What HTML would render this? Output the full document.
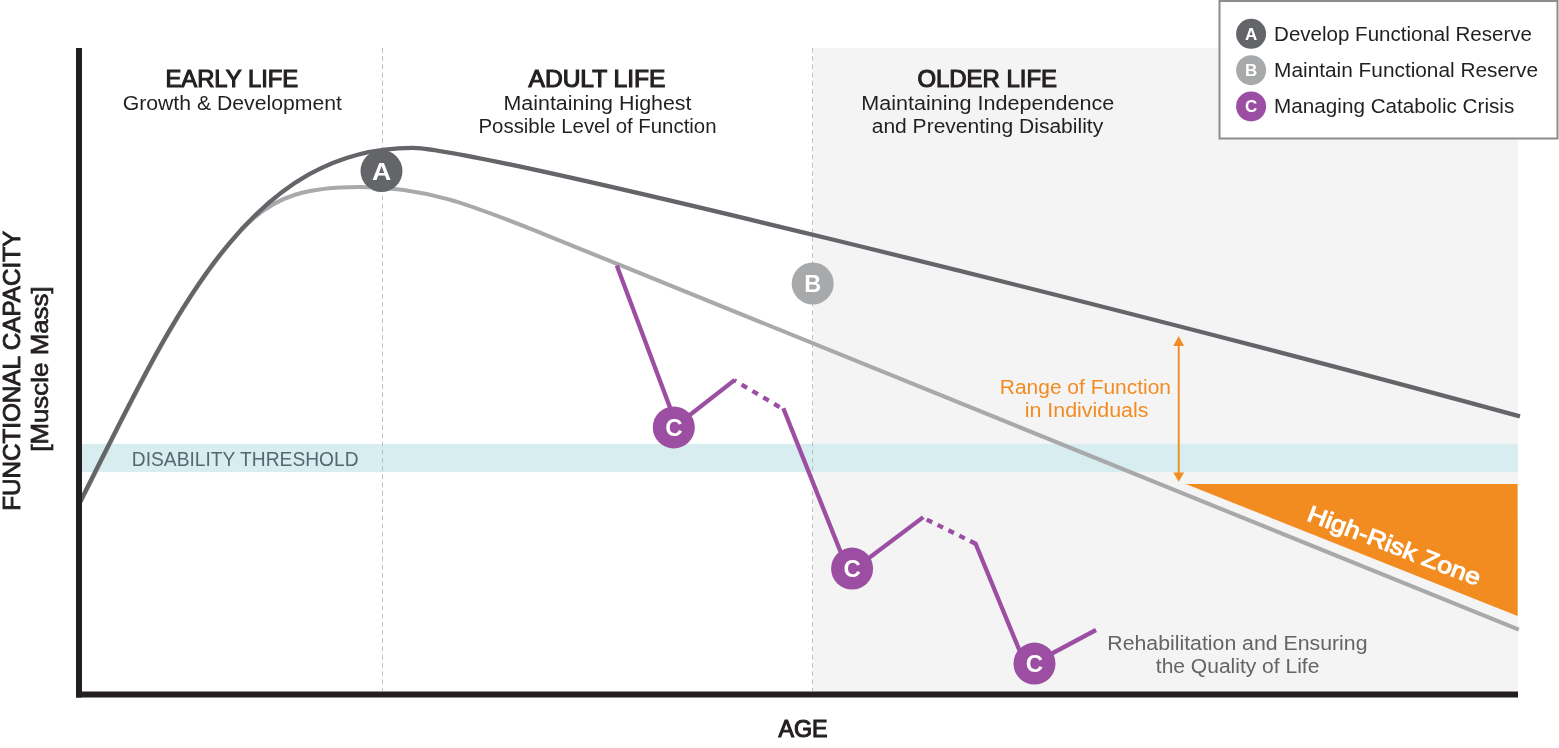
<!DOCTYPE html>
<html lang="en"><head><meta charset="utf-8"><title>Functional capacity across the life course</title>
<style>
html,body{margin:0;padding:0;background:#fff;}
body{width:1559px;height:748px;overflow:hidden;font-family:"Liberation Sans",sans-serif;}
svg{display:block;}
text{font-family:"Liberation Sans",sans-serif;}
.t{font-weight:400;fill:#231f20;stroke:#231f20;stroke-width:1.1px;stroke-linejoin:miter;}
.s{fill:#231f20;}
</style></head><body>
<svg width="1559" height="748" viewBox="0 0 1559 748">
<rect width="1559" height="748" fill="#ffffff"/>

<rect x="813.2" y="48" width="704.8" height="644" fill="#f4f4f5"/>
<rect x="82" y="443.8" width="1436" height="28.3" fill="#d7edf0"/>
<line x1="382.5" y1="48" x2="382.5" y2="691" stroke="#b9b9b9" stroke-width="0.9" stroke-dasharray="4.8 3.4"/>
<line x1="812.5" y1="48" x2="812.5" y2="691" stroke="#b9b9b9" stroke-width="0.9" stroke-dasharray="4.8 3.4"/>
<polygon points="1185.8,484 1517.6,484 1517.6,616" fill="#f28c20"/>
<path d="M80.6,502 C131.7,401 178.5,299.3 240.3,231.1 C275.2,192.2 313.6,187 360,187 C427.3,187 473.2,205.9 541.8,233.3 L1518.8,629.7" fill="none" stroke="#a8a9ab" stroke-width="4.1" stroke-linecap="butt"/>
<path d="M80,502 C169.1,326 244.9,147.8 412,147.8 C472.6,147.8 1100.6,302.2 1520,416.4" fill="none" stroke="#636569" stroke-width="4.3" stroke-linecap="butt"/>
<g stroke="#9c4fa2" stroke-width="4.3" fill="none" stroke-linecap="butt">
<line x1="616.8" y1="265.4" x2="672.8" y2="415"/>
<line x1="673.8" y1="427.5" x2="734.8" y2="379.9"/>
<line x1="734.3" y1="380.3" x2="783.8" y2="409.5" stroke-dasharray="6.3 6.3" stroke-dashoffset="4.1"/>
<line x1="783.3" y1="408.2" x2="845" y2="563"/>
<line x1="853" y1="570" x2="923.3" y2="517.1"/>
<line x1="922.7" y1="517.6" x2="975.6" y2="543.7" stroke-dasharray="6.1 6" stroke-dashoffset="7.6"/>
<line x1="975.1" y1="542.5" x2="1022" y2="656.5"/>
<line x1="1036" y1="662" x2="1096" y2="630"/>
</g>
<line x1="1178.7" y1="343" x2="1178.7" y2="475" stroke="#f28c20" stroke-width="1.9"/>
<polygon points="1178.7,336 1173.3,346 1184.1,346" fill="#f28c20"/>
<polygon points="1178.7,481.8 1173.3,472.6 1184.1,472.6" fill="#f28c20"/>
<rect x="76" y="48" width="6" height="649.5" fill="#231f20"/>
<rect x="76" y="691.5" width="1442" height="6" fill="#231f20"/>
<circle cx="381.5" cy="171" r="21" fill="#636569"/>
<text x="381.5" y="179.5" text-anchor="middle" font-size="24" font-weight="700" fill="#ffffff" textLength="19.2" lengthAdjust="spacingAndGlyphs">A</text>
<circle cx="812.7" cy="283.5" r="21" fill="#a8a9ab"/>
<text x="812.7" y="291.8" text-anchor="middle" font-size="23.5" font-weight="700" fill="#ffffff">B</text>
<circle cx="673.8" cy="427.4" r="21" fill="#9c4fa2"/>
<text x="673.8" y="435.9" text-anchor="middle" font-size="24" font-weight="700" fill="#ffffff">C</text>
<circle cx="852.1" cy="568.6" r="21" fill="#9c4fa2"/>
<text x="852.1" y="577.1" text-anchor="middle" font-size="24" font-weight="700" fill="#ffffff">C</text>
<circle cx="1034.5" cy="663.6" r="21" fill="#9c4fa2"/>
<text x="1034.5" y="672.1" text-anchor="middle" font-size="24" font-weight="700" fill="#ffffff">C</text>
<text class="t" x="165.4" y="86.6" font-size="23.2" textLength="132.8" lengthAdjust="spacingAndGlyphs">EARLY LIFE</text>
<text class="s" x="122.7" y="109.8" font-size="20" textLength="219.3" lengthAdjust="spacingAndGlyphs">Growth &amp; Development</text>
<text class="t" x="528.5" y="86.6" font-size="23.2" textLength="137.0" lengthAdjust="spacingAndGlyphs">ADULT LIFE</text>
<text class="s" x="503.5" y="109.8" font-size="20" textLength="188.0" lengthAdjust="spacingAndGlyphs">Maintaining Highest</text>
<text class="s" x="478.5" y="132.9" font-size="20" textLength="238.0" lengthAdjust="spacingAndGlyphs">Possible Level of Function</text>
<text class="t" x="917.4" y="86.6" font-size="23.2" textLength="139.6" lengthAdjust="spacingAndGlyphs">OLDER LIFE</text>
<text class="s" x="861.2" y="109.8" font-size="20" textLength="253.0" lengthAdjust="spacingAndGlyphs">Maintaining Independence</text>
<text class="s" x="871.7" y="132.9" font-size="20" textLength="231.5" lengthAdjust="spacingAndGlyphs">and Preventing Disability</text>
<text class="t" x="778.5" y="736.6" font-size="23.2" textLength="49.1" lengthAdjust="spacingAndGlyphs">AGE</text>
<text class="s" x="131.8" y="466.1" font-size="21" textLength="226.8" lengthAdjust="spacingAndGlyphs" style="fill:#566770">DISABILITY THRESHOLD</text>
<text class="s" x="999.8" y="393.8" font-size="20" textLength="171.2" lengthAdjust="spacingAndGlyphs" style="fill:#f28c20">Range of Function</text>
<text class="s" x="1024.7" y="416.8" font-size="20" textLength="123.7" lengthAdjust="spacingAndGlyphs" style="fill:#f28c20">in Individuals</text>
<text class="s" x="1107.3" y="649.8" font-size="19.5" textLength="260.2" lengthAdjust="spacingAndGlyphs" style="fill:#636466">Rehabilitation and Ensuring</text>
<text class="s" x="1155.8" y="672.9" font-size="19.5" textLength="163.6" lengthAdjust="spacingAndGlyphs" style="fill:#636466">the Quality of Life</text>
<text class="t" transform="translate(20.4,510.8) rotate(-90)" font-size="23.2" textLength="280" lengthAdjust="spacingAndGlyphs" style="stroke-width:0.9px">FUNCTIONAL CAPACITY</text>
<text class="s" transform="translate(48.3,451.8) rotate(-90)" font-size="23.2" textLength="165.5" lengthAdjust="spacingAndGlyphs" stroke="#231f20" stroke-width="0.7">[Muscle Mass]</text>
<text transform="translate(1305.8,519.9) rotate(21.1)" font-size="23.2" fill="#ffffff" stroke="#ffffff" stroke-width="1.0" textLength="183.5" lengthAdjust="spacingAndGlyphs">High-Risk Zone</text>
<rect x="1219.5" y="1" width="338" height="137.5" fill="#ffffff" stroke="#8a8c8e" stroke-width="2"/>
<circle cx="1251.1" cy="33.8" r="15" fill="#636569"/>
<text x="1251.1" y="39.7" text-anchor="middle" font-size="17" font-weight="700" fill="#ffffff">A</text>
<circle cx="1251.1" cy="70.2" r="15" fill="#a8a9ab"/>
<text x="1251.1" y="76.1" text-anchor="middle" font-size="17" font-weight="700" fill="#ffffff">B</text>
<circle cx="1251.1" cy="106.4" r="15" fill="#9c4fa2"/>
<text x="1251.1" y="112.3" text-anchor="middle" font-size="17" font-weight="700" fill="#ffffff">C</text>
<text class="s" x="1274.1" y="41.4" font-size="19.3" textLength="257.9" lengthAdjust="spacingAndGlyphs">Develop Functional Reserve</text>
<text class="s" x="1274.1" y="76.6" font-size="19.3" textLength="263.9" lengthAdjust="spacingAndGlyphs">Maintain Functional Reserve</text>
<text class="s" x="1274.1" y="112.5" font-size="19.3" textLength="240.2" lengthAdjust="spacingAndGlyphs">Managing Catabolic Crisis</text>
</svg></body></html>
